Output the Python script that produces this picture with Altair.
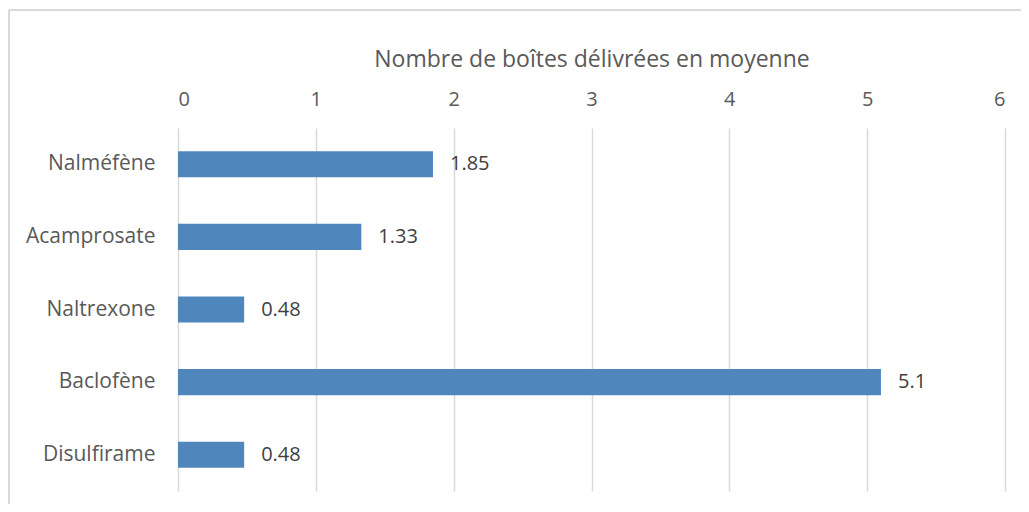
import altair as alt
import pandas as pd

categories = ["Nalméfène", "Acamprosate", "Naltrexone", "Baclofène", "Disulfirame"]
values = [1.85, 1.33, 0.48, 5.1, 0.48]
labels = ["1.85", "1.33", "0.48", "5.1", "0.48"]

df = pd.DataFrame({"cat": categories, "val": values, "lab": labels})

FONT = "Open Sans"

x = alt.X("val:Q", scale=alt.Scale(domain=[0, 6], nice=False),
          axis=alt.Axis(orient="top", values=[0, 1, 2, 3, 4, 5, 6], format="d",
                        title="Nombre de boîtes délivrées en moyenne",
                        grid=True, gridColor="#d9d9d9", gridWidth=1.5,
                        domain=False, ticks=False, labelFontSize=20,
                        labelColor="#595959", labelPadding=19, labelFont=FONT,
                        titleFont=FONT, titleFontSize=23, titleFontWeight="normal",
                        titleColor="#595959", titlePadding=18))
y = alt.Y("cat:N", sort=categories,
          scale=alt.Scale(paddingInner=0.64, paddingOuter=0.32),
          axis=alt.Axis(title=None, domain=False, ticks=False, grid=False,
                        labelFontSize=21, labelColor="#595959", labelFont=FONT,
                        labelPadding=23))

base = alt.Chart(df).encode(x=x, y=y)
bars = base.mark_bar(color="#4F87BD")
text = base.mark_text(align="left", dx=17, fontSize=20, font=FONT,
                      color="#404040").encode(text="lab:N")

top_edge = alt.Chart(df).mark_rule(color="#d9d9d9", strokeWidth=1.5, clip=False).encode(
    x=alt.value(-169), x2=alt.value(843), y=alt.value(-118))
left_edge = alt.Chart(df).mark_rule(color="#d9d9d9", strokeWidth=1.5, clip=False).encode(
    x=alt.value(-169), y=alt.value(-118), y2=alt.value(376))

chart = alt.layer(top_edge, left_edge, bars, text).properties(
    width=827, height=363,
    background="white",
    autosize=alt.AutoSizeParams(type="none"),
    padding={"left": 170, "top": 120, "right": 16, "bottom": 13},
).configure_view(strokeWidth=0, stroke=None)

chart.save("out.html", embed_options={"renderer": "svg", "actions": False})
